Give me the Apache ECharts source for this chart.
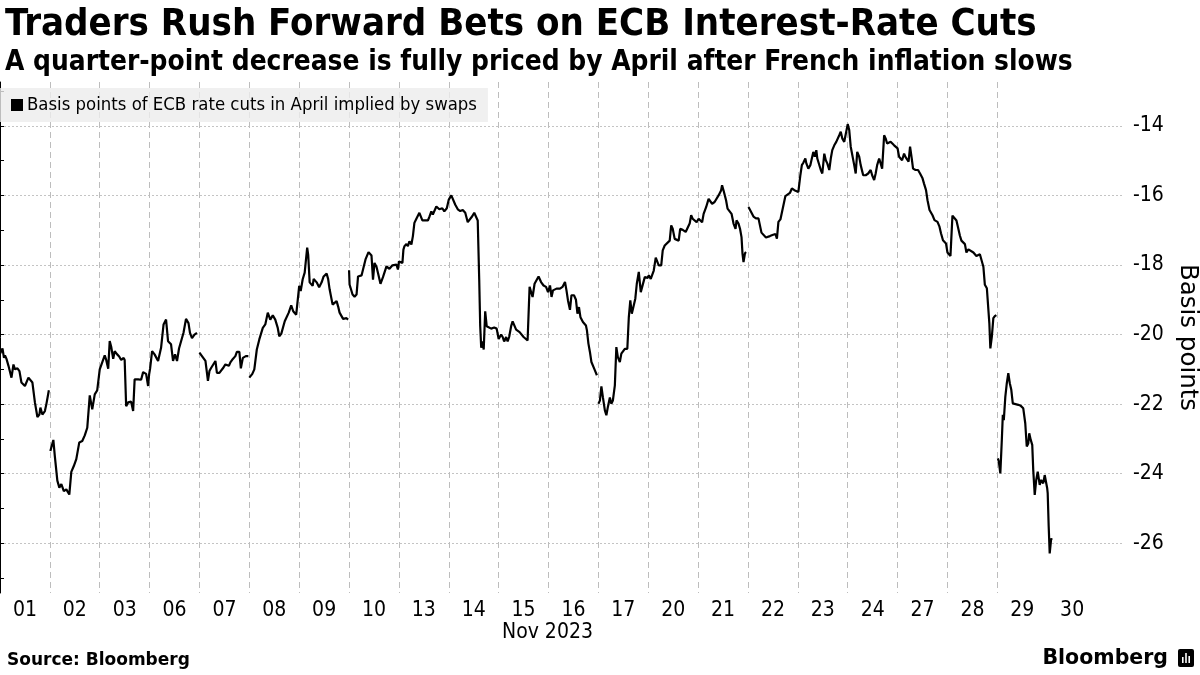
<!DOCTYPE html>
<html>
<head>
<meta charset="utf-8">
<script src="https://cdn.jsdelivr.net/npm/echarts@6/dist/echarts.min.js"></script>
<style>
  html, body { margin: 0; padding: 0; background: #fff; }
  #chart { width: 1200px; height: 675px; }
</style>
</head>
<body>
<div id="chart"></div>
<script>
// trading days shown on the axis
const dayLabels = ['01', '02', '03', '06', '07', '08', '09', '10', '13', '14', '15',
  '16', '17', '20', '21', '22', '23', '24', '27', '28', '29', '30'];

// intraday readings per day: [fraction of the day, basis points]
const nov01 = [[0.00, -20.55], [0.05, -20.4], [0.08, -20.67], [0.10, -20.6], [0.13, -20.7], [0.17, -20.9], [0.23, -21.24], [0.27, -20.86], [0.30, -21.0], [0.35, -20.97], [0.39, -21.05], [0.43, -21.38], [0.50, -21.48], [0.57, -21.24], [0.61, -21.2], [0.65, -21.38], [0.70, -21.95], [0.75, -22.37], [0.79, -22.3], [0.81, -22.1], [0.85, -22.3], [0.90, -22.2], [0.93, -22.0], [0.98, -21.6]];
const nov02 = [[0.01, -23.35], [0.07, -23.03], [0.10, -23.5], [0.15, -24.2], [0.19, -24.4], [0.23, -24.3], [0.28, -24.5], [0.33, -24.45], [0.39, -24.6], [0.43, -23.95], [0.48, -23.78], [0.53, -23.58], [0.59, -23.1], [0.65, -23.06], [0.70, -22.9], [0.75, -22.68], [0.80, -21.75], [0.85, -22.15], [0.90, -21.72], [0.95, -21.6], [0.99, -21.6]];
const nov03 = [[0.00, -21.0], [0.05, -20.8], [0.10, -20.6], [0.13, -20.73], [0.17, -20.98], [0.20, -20.19], [0.23, -20.35], [0.27, -20.7], [0.30, -20.48], [0.35, -20.57], [0.39, -20.63], [0.43, -20.73], [0.48, -20.67], [0.50, -20.73], [0.53, -22.06], [0.57, -21.95], [0.60, -22.0], [0.63, -21.93], [0.67, -22.2], [0.70, -21.29], [0.77, -21.29], [0.83, -21.3], [0.87, -21.08], [0.93, -21.13], [0.97, -21.48], [0.99, -21.15]];
const nov06 = [[0.01, -20.98], [0.05, -20.48], [0.10, -20.57], [0.17, -20.76], [0.23, -20.38], [0.28, -19.71], [0.33, -19.57], [0.37, -20.19], [0.40, -20.24], [0.43, -20.28], [0.47, -20.76], [0.51, -20.57], [0.55, -20.76], [0.59, -20.4], [0.63, -20.45], [0.68, -19.95], [0.73, -19.55], [0.78, -19.67], [0.81, -19.95], [0.85, -20.1], [0.90, -20.0], [0.95, -19.95]];
const nov07 = [[0.00, -20.52], [0.05, -20.62], [0.09, -20.62], [0.12, -20.76], [0.17, -21.33], [0.20, -21.05], [0.23, -20.97], [0.27, -21.0], [0.32, -20.76], [0.35, -21.1], [0.40, -21.1], [0.47, -20.97], [0.52, -20.86], [0.59, -20.9], [0.62, -20.8], [0.67, -20.7], [0.72, -20.62], [0.75, -20.5], [0.80, -20.5], [0.83, -20.97], [0.87, -20.67], [0.93, -20.62], [0.98, -20.62]];
const nov08 = [[0.00, -21.24], [0.03, -21.27], [0.06, -21.13], [0.10, -21.0], [0.15, -20.43], [0.20, -20.14], [0.27, -19.81], [0.32, -19.71], [0.37, -19.37], [0.42, -19.57], [0.47, -19.45], [0.52, -19.57], [0.57, -19.81], [0.60, -20.05], [0.64, -19.98], [0.67, -19.96], [0.71, -19.62], [0.75, -19.57], [0.79, -19.37], [0.84, -19.16], [0.88, -19.33], [0.94, -19.43], [0.98, -19.43]];
const nov09 = [[0.00, -18.6], [0.03, -18.75], [0.07, -18.41], [0.11, -18.22], [0.16, -17.5], [0.18, -17.7], [0.21, -18.5], [0.27, -18.6], [0.29, -18.4], [0.35, -18.5], [0.40, -18.64], [0.45, -18.5], [0.49, -18.33], [0.55, -18.25], [0.58, -18.4], [0.61, -18.7], [0.67, -19.14], [0.71, -19.18], [0.75, -19.04], [0.78, -19.19], [0.81, -19.37], [0.85, -19.32], [0.88, -19.55], [0.95, -19.53], [0.98, -19.57]];
const nov10 = [[0.00, -18.15], [0.01, -18.56], [0.07, -18.85], [0.11, -18.91], [0.15, -18.85], [0.18, -18.33], [0.25, -18.3], [0.28, -18.13], [0.33, -17.84], [0.36, -17.88], [0.39, -17.63], [0.45, -17.73], [0.48, -18.42], [0.51, -17.94], [0.55, -18.05], [0.58, -18.23], [0.63, -18.54], [0.68, -18.35], [0.75, -18.04], [0.81, -18.11], [0.87, -18.01], [0.91, -18.03], [0.95, -17.99], [0.98, -18.13], [1.00, -17.9]];
const nov13 = [[0.01, -17.95], [0.07, -17.94], [0.09, -17.56], [0.11, -17.46], [0.15, -17.4], [0.18, -17.46], [0.21, -17.32], [0.25, -17.41], [0.28, -17.17], [0.31, -16.79], [0.35, -16.67], [0.41, -16.5], [0.47, -16.72], [0.51, -16.68], [0.58, -16.72], [0.61, -16.62], [0.65, -16.46], [0.68, -16.55], [0.71, -16.58], [0.75, -16.32], [0.81, -16.4], [0.87, -16.37], [0.91, -16.46], [0.96, -16.37], [1.00, -16.12]];
const nov14 = [[0.01, -16.07], [0.05, -16.0], [0.09, -16.02], [0.13, -16.27], [0.18, -16.4], [0.23, -16.45], [0.28, -16.42], [0.33, -16.5], [0.38, -16.77], [0.41, -16.74], [0.47, -16.6], [0.51, -16.5], [0.55, -16.55], [0.58, -16.72], [0.61, -18.42], [0.63, -19.76], [0.65, -20.38], [0.68, -20.2], [0.70, -20.43], [0.73, -19.33], [0.76, -19.76], [0.80, -19.74], [0.85, -19.83], [0.91, -19.8], [0.96, -19.83]];
const nov15 = [[0.00, -20.13], [0.05, -20.0], [0.08, -20.07], [0.11, -20.2], [0.15, -20.07], [0.18, -20.2], [0.21, -20.07], [0.25, -19.76], [0.28, -19.62], [0.35, -19.86], [0.42, -19.93], [0.45, -19.97], [0.50, -20.07], [0.54, -20.12], [0.58, -20.17], [0.62, -18.63], [0.65, -18.68], [0.68, -18.92], [0.72, -18.54], [0.75, -18.49], [0.80, -18.33], [0.85, -18.49], [0.90, -18.59], [0.95, -18.63], [0.99, -18.78]];
const nov16 = [[0.03, -18.59], [0.06, -18.92], [0.09, -18.73], [0.16, -18.68], [0.23, -18.68], [0.28, -18.63], [0.33, -18.49], [0.36, -18.73], [0.39, -19.02], [0.43, -19.29], [0.46, -18.87], [0.51, -18.87], [0.55, -19.0], [0.58, -19.4], [0.61, -19.21], [0.64, -19.5], [0.69, -19.64], [0.75, -19.74], [0.77, -19.88], [0.80, -20.26], [0.83, -20.5], [0.86, -20.79], [0.89, -20.84], [0.93, -21.03], [0.97, -21.17]];
const nov17 = [[0.00, -21.99], [0.03, -21.9], [0.06, -21.49], [0.09, -21.8], [0.13, -22.18], [0.16, -22.32], [0.19, -22.08], [0.23, -21.81], [0.26, -21.99], [0.29, -21.9], [0.33, -21.46], [0.36, -20.36], [0.39, -20.65], [0.43, -20.79], [0.46, -20.55], [0.49, -20.5], [0.53, -20.41], [0.58, -20.41], [0.61, -19.5], [0.64, -19.02], [0.67, -19.4], [0.71, -19.35], [0.74, -18.97], [0.77, -18.54], [0.81, -18.2], [0.85, -18.78], [0.89, -18.78], [0.93, -18.35], [0.96, -18.33], [0.99, -18.37]];
const nov20 = [[0.01, -18.3], [0.05, -18.4], [0.08, -18.44], [0.11, -18.16], [0.15, -17.79], [0.17, -17.82], [0.21, -18.01], [0.26, -18.01], [0.29, -17.58], [0.33, -17.44], [0.37, -17.39], [0.43, -17.3], [0.46, -16.86], [0.49, -16.96], [0.53, -17.25], [0.57, -17.2], [0.61, -17.3], [0.64, -16.96], [0.69, -16.99], [0.75, -17.05], [0.79, -17.05], [0.83, -16.81], [0.86, -16.57], [0.89, -16.67], [0.93, -16.72], [0.97, -16.77]];
const nov21 = [[0.01, -16.67], [0.05, -16.62], [0.08, -16.77], [0.11, -16.53], [0.16, -16.34], [0.21, -16.1], [0.25, -16.1], [0.28, -16.24], [0.33, -16.19], [0.37, -16.14], [0.41, -16.0], [0.46, -15.86], [0.48, -15.71], [0.51, -15.86], [0.56, -16.14], [0.59, -16.38], [0.63, -16.43], [0.67, -16.53], [0.71, -16.81], [0.75, -16.96], [0.77, -16.72], [0.81, -16.81], [0.84, -16.96], [0.87, -17.2], [0.89, -17.68], [0.91, -17.92], [0.94, -17.66], [0.96, -17.63]];
const nov22 = [[0.01, -16.33], [0.06, -16.47], [0.11, -16.61], [0.16, -16.66], [0.21, -16.66], [0.25, -16.63], [0.27, -17.07], [0.31, -17.09], [0.36, -17.21], [0.39, -17.19], [0.44, -17.17], [0.49, -17.14], [0.55, -17.11], [0.58, -17.24], [0.61, -16.76], [0.65, -16.69], [0.69, -16.71], [0.75, -16.02], [0.79, -16.06], [0.84, -15.93], [0.88, -15.8], [0.93, -15.85], [0.96, -15.9]];
const nov23 = [[0.01, -15.9], [0.05, -15.42], [0.08, -15.13], [0.11, -15.06], [0.15, -14.94], [0.17, -15.08], [0.21, -15.23], [0.25, -15.13], [0.28, -14.94], [0.31, -14.75], [0.34, -14.89], [0.37, -14.7], [0.39, -14.94], [0.43, -14.99], [0.46, -15.27], [0.49, -15.37], [0.53, -14.8], [0.56, -14.99], [0.59, -15.08], [0.63, -15.27], [0.66, -14.94], [0.69, -14.7], [0.73, -14.56], [0.77, -14.46], [0.83, -14.27], [0.86, -14.17], [0.89, -14.36], [0.93, -14.46], [0.96, -14.41]];
const nov24 = [[0.00, -13.95], [0.03, -14.12], [0.06, -14.6], [0.09, -14.6], [0.13, -15.13], [0.16, -15.37], [0.19, -14.75], [0.23, -14.89], [0.26, -15.13], [0.31, -15.42], [0.36, -15.42], [0.41, -15.37], [0.46, -15.27], [0.49, -15.42], [0.53, -15.56], [0.56, -15.37], [0.59, -15.13], [0.63, -14.94], [0.66, -15.08], [0.69, -15.23], [0.73, -14.27], [0.76, -14.36], [0.79, -14.51], [0.83, -14.51], [0.86, -14.46], [0.89, -14.51], [0.93, -14.56], [0.97, -14.6]];
const nov27 = [[0.00, -14.65], [0.03, -14.89], [0.06, -14.94], [0.09, -14.99], [0.13, -14.8], [0.16, -14.9], [0.19, -14.85], [0.22, -15.03], [0.25, -14.6], [0.28, -14.9], [0.31, -15.23], [0.36, -15.27], [0.41, -15.27], [0.45, -15.37], [0.50, -15.51], [0.53, -15.66], [0.57, -15.85], [0.60, -16.14], [0.64, -16.42], [0.67, -16.38], [0.70, -16.57], [0.74, -16.71], [0.77, -16.66], [0.80, -16.76], [0.84, -16.9], [0.87, -17.09], [0.91, -17.29], [0.94, -17.33], [0.97, -17.38], [1.00, -17.38]];
const nov28 = [[0.00, -17.64], [0.03, -17.69], [0.06, -17.74], [0.10, -16.58], [0.13, -16.62], [0.18, -16.72], [0.21, -16.77], [0.25, -17.16], [0.28, -17.3], [0.31, -17.35], [0.35, -17.4], [0.38, -17.64], [0.42, -17.55], [0.45, -17.6], [0.52, -17.64], [0.58, -17.74], [0.65, -17.69], [0.69, -17.74], [0.72, -18.05], [0.75, -18.57], [0.79, -18.67], [0.82, -18.72], [0.84, -19.68], [0.86, -20.4], [0.89, -20.06], [0.92, -19.53], [0.95, -19.47], [0.98, -19.44]];
const nov29 = [[0.01, -23.56], [0.03, -23.65], [0.06, -23.99], [0.09, -23.03], [0.11, -22.31], [0.13, -22.46], [0.16, -21.79], [0.19, -21.4], [0.22, -21.11], [0.25, -21.4], [0.28, -21.59], [0.31, -21.98], [0.35, -22.02], [0.42, -22.02], [0.47, -22.05], [0.52, -22.12], [0.55, -22.17], [0.56, -22.55], [0.59, -23.22], [0.62, -23.13], [0.64, -22.84], [0.67, -23.03], [0.70, -23.17], [0.72, -23.89], [0.75, -24.61], [0.78, -24.18], [0.81, -23.94], [0.85, -24.32], [0.88, -24.18], [0.92, -24.28], [0.95, -24.04], [0.97, -23.99]];
const nov30 = [[0.00, -24.42], [0.01, -24.56], [0.03, -25.52], [0.05, -26.29], [0.08, -25.86], [0.09, -25.9]];

const days = [nov01, nov02, nov03, nov06, nov07, nov08, nov09, nov10, nov13, nov14, nov15,
  nov16, nov17, nov20, nov21, nov22, nov23, nov24, nov27, nov28, nov29, nov30];

// days after which the line breaks
const gapAfter = [0, 3, 4, 6, 11, 14, 19];

// y axis ticks and labels
const yLabels = [-26, -24, -22, -20, -18, -16, -14];
const yTicks = [-27, -26, -25, -24, -23, -22, -21, -20, -19, -18, -17, -16, -15, -14, -13];
// day boundaries that get a vertical grid line
const dayLines = dayLabels.map((d, i) => i);

const lineData = [];
days.forEach((d, i) => {
  d.forEach(p => lineData.push([i + p[0], p[1]]));
  if (gapAfter.indexOf(i) >= 0) lineData.push([i + 1, null]);
});

const font = 'DejaVu Sans Condensed';
const wideFont = 'DejaVu Sans';
const myChart = echarts.init(document.getElementById('chart'));

const option = {
  animation: false,
  backgroundColor: '#fff',
  title: [{
    text: 'Traders Rush Forward Bets on ECB Interest-Rate Cuts',
    left: 0, top: 1,
    textStyle: { fontFamily: font, fontWeight: 'bold', fontSize: 38, color: '#000' }
  }, {
    text: 'A quarter-point decrease is fully priced by April after French inflation slows',
    left: 0, top: 44,
    textStyle: { fontFamily: font, fontWeight: 'bold', fontSize: 27.8, color: '#000' }
  }],
  legend: {
    left: 0, top: 88,
    padding: [8, 11, 8, 11],
    backgroundColor: 'rgba(236,236,236,0.8)',
    icon: 'rect', itemWidth: 12, itemHeight: 12, itemGap: 4,
    textStyle: { fontFamily: font, fontSize: 18.4, color: '#000', padding: [0, 0, 0, -1] },
    data: ['Basis points of ECB rate cuts in April implied by swaps']
  },
  grid: { left: 0, right: 78, top: 82, bottom: 82, containLabel: false, outerBoundsMode: 'none' },
  xAxis: [{
    type: 'value', position: 'bottom', min: 0, max: 22.5, interval: 1,
    axisLine: { show: false }, axisTick: { show: false, customValues: dayLines }, axisLabel: { show: false },
    splitLine: { show: true, showMaxLine: false, lineStyle: { color: '#bdbdbd', type: [6, 4], width: 1 } }
  }, {
    type: 'value', position: 'bottom', min: 0, max: 22.5, interval: 0.5,
    axisLine: { show: false }, axisTick: { show: false }, splitLine: { show: false },
    axisLabel: {
      fontFamily: font, fontSize: 21, color: '#000', margin: 7,
      showMinLabel: true, showMaxLabel: true,
      formatter: v => {
        const k = Math.round(v * 2);
        return k % 2 === 1 ? (dayLabels[(k - 1) / 2] || '') : '';
      }
    }
  }],
  yAxis: [{
    type: 'value', position: 'right', min: -27.43, max: -12.74,
    name: 'Basis points', nameLocation: 'middle', nameRotate: -90, nameGap: 46,
    nameTextStyle: { fontFamily: wideFont, fontSize: 24.5, color: '#000' },
    axisLine: { show: true, lineStyle: { color: '#000', width: 1 } },
    axisTick: { show: true, length: 4, customValues: yTicks, lineStyle: { color: '#000' } },
    axisLabel: { customValues: yLabels, fontFamily: font, fontSize: 21, color: '#000', margin: 11 },
    splitLine: { show: false }
  }, {
    type: 'value', position: 'right', min: -27.43, max: -12.74, splitNumber: 7,
    axisLine: { show: false }, axisTick: { show: false }, axisLabel: { show: false },
    splitLine: { show: true, showMinLine: false, showMaxLine: false, lineStyle: { color: '#c4c4c4', type: [2, 2], width: 1 } }
  }],
  series: [{
    name: 'Basis points of ECB rate cuts in April implied by swaps',
    type: 'line',
    xAxisIndex: 0, yAxisIndex: 0,
    showSymbol: false,
    connectNulls: false,
    itemStyle: { color: '#000' },
    lineStyle: { color: '#000', width: 2.2 },
    data: lineData
  }],
  graphic: [{
    type: 'text', left: 502, top: 622,
    style: { text: 'Nov 2023', fontFamily: font, fontSize: 21, fill: '#000' }
  }, {
    type: 'text', left: 7, top: 652,
    style: { text: 'Source: Bloomberg', fontFamily: wideFont, fontWeight: 'bold', fontSize: 17, fill: '#000' }
  }, {
    type: 'text', right: 32, top: 648,
    style: { text: 'Bloomberg', fontFamily: wideFont, fontWeight: 'bold', fontSize: 20.5, fill: '#000' }
  }, {
    type: 'group', right: 6, top: 649,
    children: [{
      type: 'rect', shape: { x: 0, y: 0, width: 16, height: 18, r: 2 }, style: { fill: '#000' }
    }, {
      type: 'rect', shape: { x: 4, y: 8, width: 1.6, height: 6 }, style: { fill: '#fff' }
    }, {
      type: 'rect', shape: { x: 7.2, y: 4, width: 1.6, height: 10 }, style: { fill: '#fff' }
    }, {
      type: 'rect', shape: { x: 10.4, y: 7, width: 1.6, height: 7 }, style: { fill: '#fff' }
    }]
  }]
};
myChart.setOption(option);
</script>
</body>
</html>
